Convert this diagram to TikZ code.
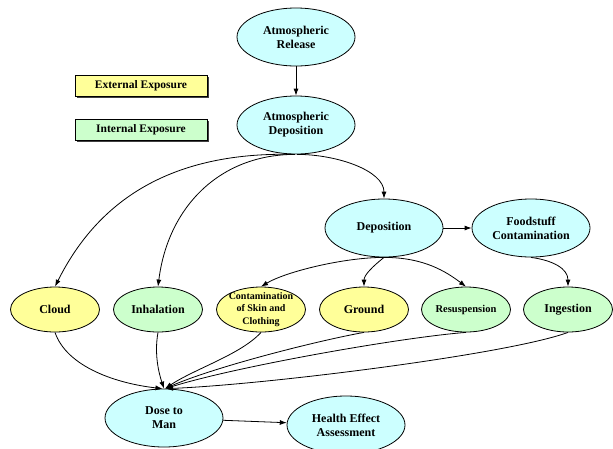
\documentclass[tikz,border=0pt]{standalone}
\usepackage{fontspec}
\setmainfont{Liberation Serif}
\usetikzlibrary{arrows.meta,shapes.geometric,shadows}
\definecolor{cyanfill}{HTML}{CCFFFF}
\definecolor{yelfill}{HTML}{FFFF99}
\definecolor{grnfill}{HTML}{CCFFCC}
\begin{document}
\begin{tikzpicture}[x=1pt,y=1pt,
  big/.style={ellipse,draw=black,line width=0.8pt,fill=cyanfill,minimum width=118pt,minimum height=58pt,inner sep=0pt},
  small/.style={ellipse,draw=black,line width=0.8pt,minimum width=89pt,minimum height=45pt,inner sep=0pt},
  yel/.style={small,fill=yelfill},
  grn/.style={small,fill=grnfill},
  txt/.style={align=center,font=\fontsize{12}{14}\selectfont\bfseries,inner sep=0pt},
  smalltxt/.style={align=center,font=\fontsize{10}{12.5}\selectfont\bfseries,inner sep=0pt},
  legend/.style={draw=black,line width=0.6pt,minimum width=132pt,minimum height=21pt,inner sep=0pt,
    font=\fontsize{11.5}{13}\selectfont\bfseries,
    drop shadow={shadow xshift=1.8pt,shadow yshift=-1.8pt,fill=black!75,opacity=1}},
  arr/.style={draw=black,line width=0.8pt,-{Latex[length=7pt,width=5pt]}}]
\useasboundingbox (0,0) rectangle (613,-448);

% legend boxes
\node[legend,fill=yelfill] (ext) at (141,-85.5) {External Exposure};
\node[legend,fill=grnfill] (int) at (141,-129.5) {Internal Exposure};

% main ellipses
\node[big] (arel) at (296,-37) {};
\node[txt] (arelt) at (arel) {Atmospheric\\Release};
\node[big] (adep) at (296,-125) {};
\node[txt] (adept) at (adep) {Atmospheric\\Deposition};
\node[big] (dep) at (384,-228) {};
\node[txt] (dept) at (dep) {Deposition};
\node[big] (food) at (531,-228) {};
\node[txt] (foodt) at (food) {Foodstuff\\Contamination};
\node[big] (dose) at (164,-418) {};
\node[txt] (doset) at (dose) {Dose to\\Man};
\node[big] (health) at (346,-425) {};
\node[txt] (healtht) at (health) {Health Effect\\Assessment};

% bottom row
\node[yel] (cloud) at (55,-309.5) {};
\node[txt] (cloudt) at (cloud) {Cloud};
\node[grn] (inh) at (158,-309.5) {};
\node[txt] (inht) at (inh) {Inhalation};
\node[yel] (skin) at (261,-309.5) {};
\node[smalltxt] (skint) at (skin) {Contamination\\of Skin and\\Clothing};
\node[yel] (ground) at (364,-309.5) {};
\node[txt] (groundt) at (ground) {Ground};
\node[grn] (res) at (466,-309.5) {};
\node[txt,font=\fontsize{10.5}{12}\selectfont\bfseries] (rest) at (res) {Resuspension};
\node[grn] (ing) at (568,-309.5) {};
\node[txt] (ingt) at (ing) {Ingestion};

% connectors
\draw[arr] (arel) -- (adep);
\draw[arr] (adep.265) .. controls +(-130,3) and +(40,80) .. (cloud.north);
\draw[arr] (adep.268) .. controls +(-75,0) and +(10,80) .. (inh.north);
\draw[arr] (adep.272) .. controls +(40,0) and +(0,28) .. (dep.north);
\draw[arr] (dep) -- (food);
\draw[arr] (dep.south) .. controls +(-40,0) and +(25,15) .. (skin.north);
\draw[arr] (dep.south) .. controls +(-10,-8) and +(0,12) .. (ground.north);
\draw[arr] (dep.south) .. controls +(40,0) and +(-20,15) .. (res.north);
\draw[arr] (food.south) .. controls +(22,-3) and +(0,18) .. (ing.north);

\draw[arr] (cloud.south) .. controls +(12,-35) and +(-45,5) .. (dose.93);
\draw[arr] (inh.south) .. controls +(-4,-22) and +(-5,15) .. (dose.90);
\draw[arr] (skin.south) .. controls +(-20,-22) and +(30,20) .. (dose.88);
\draw[arr] (ground.south) .. controls +(-45,-8) and +(50,22) .. (dose.88);
\draw[arr] (res.south) .. controls +(-65,-5) and +(70,22) .. (dose.87);
\draw[arr] (ing.south) .. controls +(-60,-22) and +(100,4) .. (dose.86);
\draw[arr] (dose) -- (health);
\end{tikzpicture}
\end{document}
